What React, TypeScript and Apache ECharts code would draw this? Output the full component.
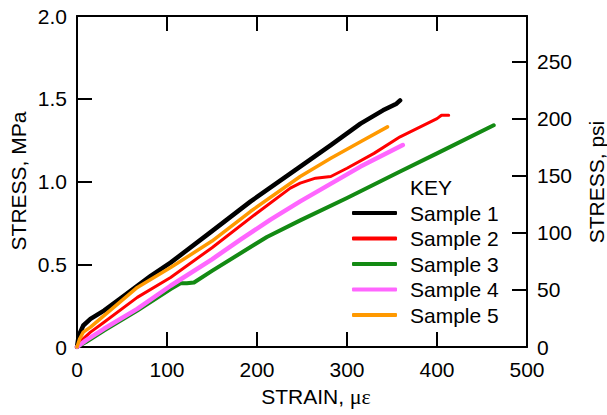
import React, { useEffect, useRef } from "react";
import * as echarts from "echarts";

const sampleNames = ["Sample 1", "Sample 2", "Sample 3", "Sample 4", "Sample 5"];
const sampleColors = ["#000000", "#ff0000", "#138a13", "#ff66ff", "#ff9900"];
const sampleWidths = [4.5, 3, 4, 4.5, 3.5];

const s1Strain = [0, 2, 7, 15, 30, 50, 82, 104, 150, 193, 248, 282, 315, 340, 355, 359];
const s1Stress = [0, 0.07, 0.13, 0.17, 0.22, 0.3, 0.43, 0.51, 0.7, 0.88, 1.09, 1.22, 1.35, 1.43, 1.47, 1.49];

const s2Strain = [0, 5, 15, 30, 67, 104, 150, 200, 237, 248, 265, 282, 300, 330, 359, 400, 405, 413];
const s2Stress = [0, 0.04, 0.09, 0.15, 0.3, 0.42, 0.6, 0.81, 0.96, 0.99, 1.02, 1.03, 1.08, 1.17, 1.27, 1.38, 1.4, 1.4];

const s3Strain = [0, 10, 30, 67, 104, 115, 122, 130, 150, 211, 248, 300, 359, 400, 463];
const s3Stress = [0, 0.03, 0.1, 0.22, 0.35, 0.385, 0.385, 0.39, 0.46, 0.665, 0.765, 0.9, 1.06, 1.17, 1.34];

const s4Strain = [0, 10, 30, 67, 104, 150, 182, 215, 248, 315, 362];
const s4Stress = [0, 0.04, 0.11, 0.23, 0.37, 0.53, 0.65, 0.77, 0.88, 1.09, 1.22];

const s5Strain = [0, 3, 7, 15, 30, 67, 104, 150, 193, 248, 282, 315, 345];
const s5Stress = [0, 0.05, 0.09, 0.12, 0.19, 0.36, 0.48, 0.64, 0.82, 1.03, 1.14, 1.24, 1.33];

const strains = [s1Strain, s2Strain, s3Strain, s4Strain, s5Strain];
const stresses = [s1Stress, s2Stress, s3Stress, s4Stress, s5Stress];

const xTicks = [0, 100, 200, 300, 400, 500];
const mpaTicks = [0, 0.5, 1.0, 1.5, 2.0];
const psiTicks = [0, 50, 100, 150, 200, 250];
const MPA_TO_PSI = 145.0377;

const FONT = "Liberation Sans, Arial, sans-serif";

export default function App() {
  const ref = useRef<HTMLDivElement>(null);

  useEffect(() => {
    if (!ref.current) return;
    const chart = echarts.init(ref.current, undefined, { renderer: "svg" });
    const axisLine = { show: true, onZero: false, lineStyle: { color: "#000", width: 2 } };
    const tick = { show: true, inside: true, length: 15, lineStyle: { color: "#000", width: 2 } };
    const labelStyle = { color: "#000", fontSize: 21, fontFamily: FONT };

    const series = sampleNames.map((name, i) => ({
      name,
      type: "line",
      xAxisIndex: 0,
      yAxisIndex: 0,
      showSymbol: false,
      symbol: "none",
      data: strains[i].map((x, k) => [x, stresses[i][k]]),
      lineStyle: { color: sampleColors[i], width: sampleWidths[i], cap: "round", join: "round" },
      itemStyle: { color: sampleColors[i] },
      z: 2 + i,
    }));

    chart.setOption({
      animation: false,
      textStyle: { fontFamily: FONT },
      grid: {
        left: 77,
        right: 80,
        top: 16,
        bottom: 68,
        containLabel: false,
        outerBoundsMode: "none",
      },
      xAxis: [
        {
          type: "value",
          position: "bottom",
          min: xTicks[0],
          max: xTicks[xTicks.length - 1],
          interval: 100,
          axisLine,
          axisTick: tick,
          splitLine: { show: false },
          axisLabel: { ...labelStyle, margin: 12 },
          name: "STRAIN, {g|με}",
          nameLocation: "middle",
          nameGap: 38,
          nameTextStyle: {
            color: "#000",
            fontSize: 21,
            fontFamily: FONT,
            padding: [0, 0, 0, 28],
            rich: { g: { fontFamily: "Liberation Serif, Times New Roman, serif", fontSize: 22, color: "#000" } },
          },
        },
        {
          type: "value",
          position: "top",
          min: xTicks[0],
          max: xTicks[xTicks.length - 1],
          interval: 100,
          axisLine,
          axisTick: tick,
          splitLine: { show: false },
          axisLabel: { show: false },
        },
      ],
      yAxis: [
        {
          type: "value",
          position: "left",
          min: mpaTicks[0],
          max: mpaTicks[mpaTicks.length - 1],
          interval: 0.5,
          axisLine,
          axisTick: tick,
          splitLine: { show: false },
          axisLabel: {
            ...labelStyle,
            margin: 10,
            formatter: (v: number) => (v === 0 ? "0" : v.toFixed(1)),
          },
        },
        {
          type: "value",
          position: "right",
          min: psiTicks[0],
          max: mpaTicks[mpaTicks.length - 1] * MPA_TO_PSI,
          interval: 50,
          axisLine,
          axisTick: tick,
          splitLine: { show: false },
          axisLabel: {
            ...labelStyle,
            margin: 10,
            formatter: (v: number) => (psiTicks.includes(Math.round(v * 1000) / 1000) ? String(v) : ""),
          },
        },
      ],
      legend: {
        show: true,
        orient: "vertical",
        left: 352,
        top: 202,
        itemWidth: 45,
        itemHeight: 4,
        itemGap: 3.5,
        icon: "roundRect",
        padding: 0,
        data: sampleNames,
        textStyle: { color: "#000", fontSize: 21, fontFamily: FONT, lineHeight: 22, padding: [0, 0, 0, 8] },
      },
      graphic: [
        {
          type: "text",
          left: 410,
          top: 177,
          style: { text: "KEY", fill: "#000", font: `21px ${FONT}` },
        },
        {
          type: "text",
          x: 18,
          y: 181,
          rotation: Math.PI / 2,
          style: { text: "STRESS, MPa", fill: "#000", font: `21px ${FONT}`, align: "center", verticalAlign: "middle" },
        },
        {
          type: "text",
          x: 596,
          y: 182,
          rotation: Math.PI / 2,
          style: { text: "STRESS, psi", fill: "#000", font: `21px ${FONT}`, align: "center", verticalAlign: "middle" },
        },
      ],
      series,
    });
    return () => chart.dispose();
  }, []);

  return (
    <div
      ref={ref}
      style={{ position: "absolute", left: 0, top: 0, width: 607, height: 415, background: "#fff" }}
    />
  );
}
